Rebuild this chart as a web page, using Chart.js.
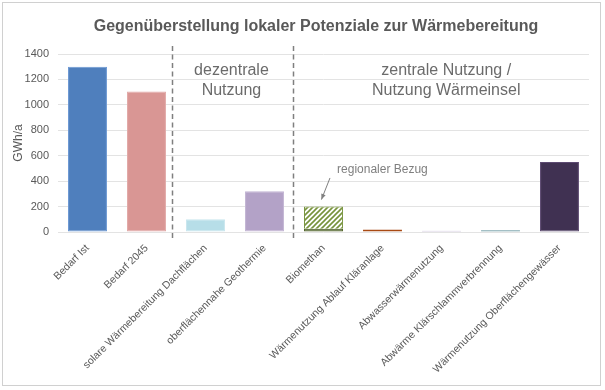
<!DOCTYPE html>
<html lang="de">
<head>
<meta charset="utf-8">
<title>Gegenüberstellung lokaler Potenziale zur Wärmebereitung</title>
<script src="https://cdn.jsdelivr.net/npm/chart.js@4.4.1/dist/chart.umd.min.js"></script>
<style>
  html, body { margin: 0; padding: 0; background: #ffffff; }
  #wrap { position: relative; width: 605px; height: 390px; }
</style>
</head>
<body>
<div id="wrap"><canvas id="potChart" width="605" height="390"></canvas></div>
<script>
// Kategorien und Werte (GWh/a)
const categories = [
  "Bedarf Ist",
  "Bedarf 2045",
  "solare Wärmebereitung Dachflächen",
  "oberflächennahe Geothermie",
  "Biomethan",
  "Wärmenutzung Ablauf Kläranlage",
  "Abwasserwärmenutzung",
  "Abwärme Klärschlammverbrennung",
  "Wärmenutzung Oberflächengewässer"
];
const localValues = [1300, 1105, 100, 320, 25, 20, 10, 13, 550];
const regionalValues = [0, 0, 0, 0, 175, 0, 0, 0, 0];
const yTicks = [0, 200, 400, 600, 800, 1000, 1200, 1400];

// Farben
const fillColors = ["#4f7fbd", "#d99694", "#b7dee8", "#b3a2c7", "#4f6228", "#c0561a", "#c3b6da", "#6a9ca5", "#403152"];
const edgeColors = ["#6a97d3", "#e2a8a6", "#c8e6ee", "#c2b4d3", "#4f6228", "#a84a14", "#b3a2c7", "#5d8f98", "#5d4a72"];
const hatchGreen = "#77933c";
const textGrey = "#595959";

// Trennlinien (Position in Kategorie-Einheiten) und Beschriftungen
const dividers = [1.43, 3.48];
const groupLabels = [
  { x: 2.44, lines: ["dezentrale", "Nutzung"] },
  { x: 6.08, lines: ["zentrale Nutzung /", "Nutzung Wärmeinsel"] }
];

function makeHatch() {
  const c = document.createElement("canvas");
  c.width = 5; c.height = 5;
  const g = c.getContext("2d");
  g.fillStyle = "#ffffff";
  g.fillRect(0, 0, 5, 5);
  g.strokeStyle = hatchGreen;
  g.lineWidth = 1.6;
  g.beginPath();
  g.moveTo(-1, 6); g.lineTo(6, -1);
  g.moveTo(-1, 1); g.lineTo(1, -1);
  g.moveTo(4, 6); g.lineTo(6, 4);
  g.stroke();
  return g.createPattern(c, "repeat");
}

const decorPlugin = {
  id: "decor",
  beforeDraw(chart) {
    const ctx = chart.ctx;
    ctx.save();
    ctx.fillStyle = "#ffffff";
    ctx.fillRect(0, 0, chart.width, chart.height);
    ctx.strokeStyle = "#d0d0d0";
    ctx.lineWidth = 1;
    ctx.strokeRect(2.5, 2.5, 598, 383);
    // Titel
    ctx.fillStyle = textGrey;
    ctx.font = "bold 16px 'Liberation Sans', Arial, sans-serif";
    ctx.textAlign = "center";
    ctx.textBaseline = "middle";
    ctx.fillText("Gegenüberstellung lokaler Potenziale zur Wärmebereitung", 316, 27);
    ctx.restore();
  },
  afterDatasetsDraw(chart) {
    const ctx = chart.ctx;
    const xs = chart.scales.x;
    const ys = chart.scales.y;
    const area = chart.chartArea;
    ctx.save();
    // gestrichelte Trennlinien
    ctx.strokeStyle = "#7f7f7f";
    ctx.lineWidth = 1.5;
    ctx.setLineDash([5, 3.5]);
    dividers.forEach(d => {
      const px = Math.round(xs.getPixelForValue(d)) + 0.5;
      ctx.beginPath();
      ctx.moveTo(px, area.top - 8);
      ctx.lineTo(px, area.bottom + 7);
      ctx.stroke();
    });
    ctx.setLineDash([]);
    // Gruppenbeschriftung
    ctx.fillStyle = "#6b6b6b";
    ctx.font = "16px 'Liberation Sans', Arial, sans-serif";
    ctx.textAlign = "center";
    ctx.textBaseline = "middle";
    groupLabels.forEach(g => {
      const px = xs.getPixelForValue(g.x);
      g.lines.forEach((line, i) => {
        ctx.fillText(line, px, ys.getPixelForValue(1268 - i * 155));
      });
    });
    // regionaler Bezug mit Pfeil
    ctx.fillStyle = "#7f7f7f";
    ctx.font = "12px 'Liberation Sans', Arial, sans-serif";
    ctx.textAlign = "left";
    ctx.fillText("regionaler Bezug", xs.getPixelForValue(4.23), ys.getPixelForValue(494));
    const x1 = xs.getPixelForValue(4.11), y1 = ys.getPixelForValue(425);
    const x2 = xs.getPixelForValue(3.965), y2 = ys.getPixelForValue(255);
    ctx.strokeStyle = "#808080";
    ctx.lineWidth = 1;
    ctx.beginPath();
    ctx.moveTo(x1, y1);
    ctx.lineTo(x2, y2);
    ctx.stroke();
    const ang = Math.atan2(y2 - y1, x2 - x1);
    ctx.beginPath();
    ctx.moveTo(x2, y2);
    ctx.lineTo(x2 - 6 * Math.cos(ang - 0.4), y2 - 6 * Math.sin(ang - 0.4));
    ctx.lineTo(x2 - 6 * Math.cos(ang + 0.4), y2 - 6 * Math.sin(ang + 0.4));
    ctx.closePath();
    ctx.fillStyle = "#808080";
    ctx.fill();
    ctx.restore();
  }
};

document.addEventListener("DOMContentLoaded", () => {
  const canvas = document.getElementById("potChart");
  const hatch = makeHatch();

  new Chart(canvas, {
    type: "bar",
    data: {
      labels: categories,
      datasets: [
        {
          label: "lokal",
          data: localValues,
          backgroundColor: fillColors,
          borderColor: edgeColors,
          borderWidth: 1,
          borderSkipped: false,
          barPercentage: 0.66,
          categoryPercentage: 1
        },
        {
          label: "regional",
          data: regionalValues,
          backgroundColor: hatch,
          borderColor: hatchGreen,
          borderWidth: 1,
          barPercentage: 0.66,
          categoryPercentage: 1
        }
      ]
    },
    options: {
      responsive: false,
      animation: false,
      devicePixelRatio: 1,
      layout: { padding: { top: 54, right: 16, bottom: 0, left: 0 } },
      plugins: {
        legend: { display: false },
        title: { display: false },
        tooltip: { enabled: false }
      },
      scales: {
        x: {
          stacked: true,
          grid: { display: false },
          border: { display: false },
          ticks: {
            autoSkip: false,
            minRotation: 45,
            maxRotation: 45,
            padding: 2,
            color: textGrey,
            font: { family: "'Liberation Sans', Arial, sans-serif", size: 10.5 }
          },
          afterFit(scale) { scale.height = 158; }
        },
        y: {
          stacked: true,
          min: 0,
          max: 1400,
          afterBuildTicks(scale) { scale.ticks = yTicks.map(v => ({ value: v })); },
          grid: { color: "#e3e3e3", drawTicks: false, lineWidth: 1 },
          border: { display: false },
          ticks: {
            padding: 9,
            color: textGrey,
            font: { family: "'Liberation Sans', Arial, sans-serif", size: 11 },
            callback: (v) => String(v)
          },
          title: {
            display: true,
            text: "GWh/a",
            color: textGrey,
            font: { family: "'Liberation Sans', Arial, sans-serif", size: 12 },
            padding: { top: 11, bottom: 0 }
          },
          afterFit(scale) { scale.width = 58; }
        }
      }
    },
    plugins: [decorPlugin]
  });
});
</script>
</body>
</html>
